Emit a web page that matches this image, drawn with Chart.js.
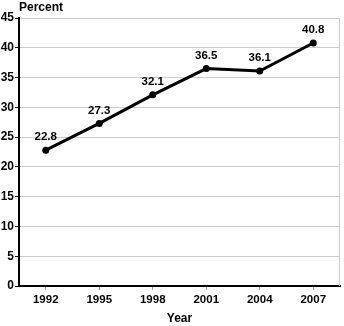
<!DOCTYPE html>
<html><head><meta charset="utf-8">
<script src="https://cdn.jsdelivr.net/npm/chart.js@4/dist/chart.umd.min.js"></script>
<style>html,body{margin:0;padding:0;background:#fff}#wrap{width:344px;height:326px}</style>
</head><body><div id="wrap"><canvas id="c" width="344" height="326"></canvas></div>
<script>
const years = ["1992","1995","1998","2001","2004","2007"];
const percent = [22.8, 27.3, 32.1, 36.5, 36.1, 40.8];
const yTicks = [0,5,10,15,20,25,30,35,40,45];
const FONT = "'Liberation Sans', Arial, Helvetica, sans-serif";

const extras = {
  id: 'extras',
  afterDraw(chart) {
    const ctx = chart.ctx, a = chart.chartArea;
    ctx.save();
    ctx.strokeStyle = '#cccccc'; ctx.lineWidth = 1;
    ctx.beginPath(); ctx.moveTo(a.right - 0.5, a.top); ctx.lineTo(a.right - 0.5, a.bottom); ctx.stroke();
    ctx.fillStyle = '#000';
    ctx.font = 'bold 12px ' + FONT;
    ctx.textAlign = 'left'; ctx.textBaseline = 'alphabetic';
    ctx.fillText('Percent', 19, 11);
    const meta = chart.getDatasetMeta(0);
    ctx.font = 'bold 11.5px ' + FONT;
    ctx.textAlign = 'center'; ctx.textBaseline = 'middle';
    meta.data.forEach((p, i) => {
      ctx.fillText(percent[i].toFixed(1), p.x, p.y - 13);
    });
    ctx.restore();
  }
};

new Chart(document.getElementById('c'), {
  type: 'line',
  data: { labels: years, datasets: [{
    data: percent, borderColor: '#000', backgroundColor: '#000', borderWidth: 3,
    pointRadius: 3.5, pointBackgroundColor: '#000', pointBorderWidth: 0, tension: 0
  }]},
  options: {
    responsive: false, animation: false, devicePixelRatio: 1,
    layout: { padding: { top: 18, right: -1, left: 0, bottom: 0 } },
    plugins: { legend: { display: false }, tooltip: { enabled: false } },
    scales: {
      x: {
        offset: true,
        grid: { drawOnChartArea: false, drawTicks: true, tickLength: 4, tickColor: '#999' },
        border: { color: '#000', width: 2 },
        ticks: { color: '#000', font: { family: FONT, weight: 'bold', size: 11.5 }, padding: 3, maxRotation: 0 },
        title: { display: true, text: 'Year', color: '#000', font: { family: FONT, weight: 'bold', size: 12 }, padding: { top: 7, bottom: 0 } },
        afterFit(s) { s.height = 40; }
      },
      y: {
        min: 0, max: 45,
        afterBuildTicks(s) { s.ticks = yTicks.map(v => ({ value: v })); },
        grid: { color: '#cccccc', drawTicks: true, tickLength: 4, tickColor: '#000' },
        border: { color: '#000', width: 2 },
        ticks: { color: '#000', font: { family: FONT, weight: 'bold', size: 12 }, padding: 1 },
        afterFit(s) { s.width = 19; }
      }
    }
  },
  plugins: [extras]
});
</script></body></html>
